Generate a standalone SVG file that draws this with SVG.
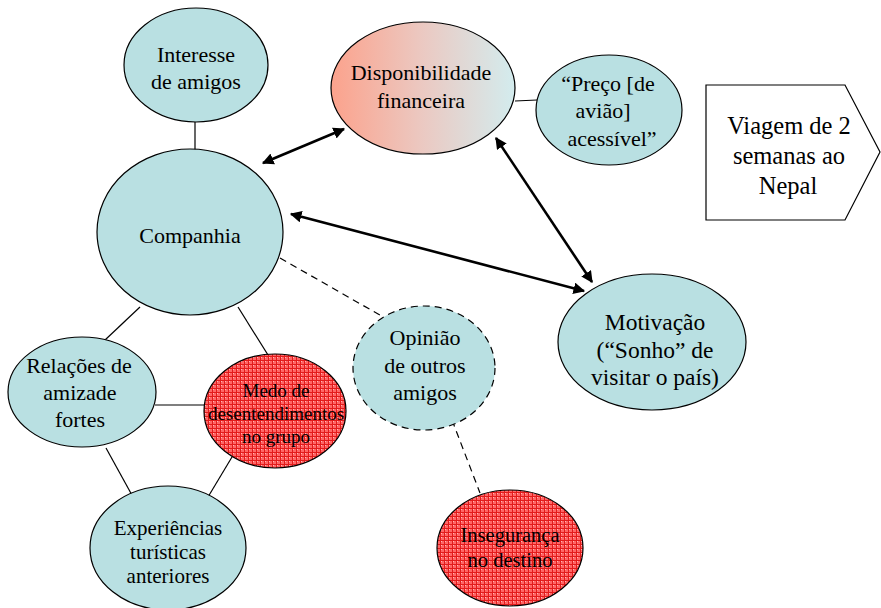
<svg xmlns="http://www.w3.org/2000/svg" width="881" height="608" viewBox="0 0 881 608">
<style>
.n{fill:#b9e0e2;stroke:#000;stroke-width:1.2}
.r{fill:url(#hatch);stroke:#000;stroke-width:1.2}
.t{font-family:"Liberation Serif","Times New Roman",serif;font-size:22px;text-anchor:middle;fill:#000}
.s{font-size:19px}
.e{font-size:21px}
.m{font-size:23.5px}
.v{font-size:24.5px}
.l{stroke:#000;stroke-width:1.2;fill:none}
.d{stroke:#000;stroke-width:1.2;fill:none;stroke-dasharray:7 5}
.a{stroke:#000;stroke-width:2.6;fill:none;marker-start:url(#ah);marker-end:url(#ah)}
</style>
<defs>
<marker id="ah" viewBox="0 0 10 10" refX="9" refY="5" markerWidth="4.5" markerHeight="4.5" orient="auto-start-reverse" markerUnits="strokeWidth">
<path d="M0 0L10 5L0 10z" fill="#000"/>
</marker>
<pattern id="hatch" width="4" height="4" patternUnits="userSpaceOnUse">
<rect width="4" height="4" fill="#f66"/>
<rect x="1" y="1" width="1" height="1" fill="#fbb"/>
<path d="M0 0.5H4M0.5 0V4" stroke="#e21b1b" stroke-width="1"/>
</pattern>
<linearGradient id="grad" x1="0" y1="0" x2="1" y2="0">
<stop offset="0" stop-color="#fca28c"/>
<stop offset="0.5" stop-color="#ebc9c2"/>
<stop offset="1" stop-color="#d3ecee"/>
</linearGradient>
</defs>
<g id="connectors">
<line class="l" x1="195" y1="122" x2="195" y2="150"/>
<line class="l" x1="515" y1="101" x2="537" y2="100"/>
<line class="l" x1="140" y1="307" x2="105" y2="340"/>
<line class="l" x1="238" y1="307" x2="268" y2="355"/>
<line class="l" x1="155" y1="405" x2="204" y2="405"/>
<line class="l" x1="106" y1="448" x2="133" y2="497"/>
<line class="l" x1="232" y1="457" x2="205" y2="502"/>
<line class="d" x1="280" y1="258" x2="385" y2="318"/>
<line class="d" x1="452" y1="420" x2="480" y2="493"/>
<line class="a" x1="263" y1="163" x2="344" y2="129"/>
<line class="a" x1="496" y1="138" x2="592" y2="282"/>
<line class="a" x1="291" y1="214" x2="584" y2="291"/>
</g>
<g id="interesse">
<ellipse class="n" cx="196" cy="65" rx="72" ry="57"/>
<text class="t" x="196" y="62">Interesse</text>
<text class="t" x="196" y="89">de amigos</text>
</g>
<g id="companhia">
<ellipse class="n" cx="190" cy="232" rx="93" ry="83"/>
<text class="t" x="190" y="243">Companhia</text>
</g>
<g id="disponibilidade">
<ellipse cx="423" cy="88" rx="92" ry="66" fill="url(#grad)" stroke="#000" stroke-width="1.2"/>
<text class="t" x="421" y="80">Disponibilidade</text>
<text class="t" x="421" y="108">financeira</text>
</g>
<g id="preco">
<ellipse class="n" cx="609" cy="110" rx="73" ry="55"/>
<text class="t" x="608" y="91">“Preço [de</text>
<text class="t" x="603" y="118">avião]</text>
<text class="t" x="612" y="146">acessível”</text>
</g>
<g id="viagem">
<polygon points="706,85 845,85 880,152 845,220 706,220" fill="#fff" stroke="#000" stroke-width="1.2"/>
<text class="t v" x="789" y="134">Viagem de 2</text>
<text class="t v" x="789" y="164">semanas ao</text>
<text class="t v" x="788" y="194">Nepal</text>
</g>
<g id="motivacao">
<ellipse class="n" cx="652" cy="342" rx="94" ry="68"/>
<text class="t m" x="655" y="330">Motivação</text>
<text class="t m" x="655" y="358">(“Sonho” de</text>
<text class="t m" x="655" y="385">visitar o país)</text>
</g>
<g id="opiniao">
<ellipse class="n" cx="424" cy="368" rx="71" ry="62" style="stroke-dasharray:7 5"/>
<text class="t" x="425" y="345">Opinião</text>
<text class="t" x="425" y="373">de outros</text>
<text class="t" x="425" y="400">amigos</text>
</g>
<g id="relacoes">
<ellipse class="n" cx="82" cy="392" rx="74" ry="55"/>
<text class="t" x="79" y="373">Relações de</text>
<text class="t" x="80" y="400">amizade</text>
<text class="t" x="80" y="427">fortes</text>
</g>
<g id="medo">
<ellipse class="r" cx="275" cy="411" rx="71" ry="57"/>
<text class="t s" x="276" y="397">Medo de</text>
<text class="t s" x="276" y="420">desentendimentos</text>
<text class="t s" x="276" y="443">no grupo</text>
</g>
<g id="experiencias">
<ellipse class="n" cx="168" cy="548" rx="78" ry="62"/>
<text class="t e" x="168" y="535">Experiências</text>
<text class="t e" x="168" y="559">turísticas</text>
<text class="t e" x="168" y="583">anteriores</text>
</g>
<g id="inseguranca">
<ellipse class="r" cx="510" cy="548" rx="73" ry="58"/>
<text class="t" x="510" y="542" style="font-size:20.5px">Insegurança</text>
<text class="t" x="510" y="567" style="font-size:20.5px">no destino</text>
</g>
</svg>
